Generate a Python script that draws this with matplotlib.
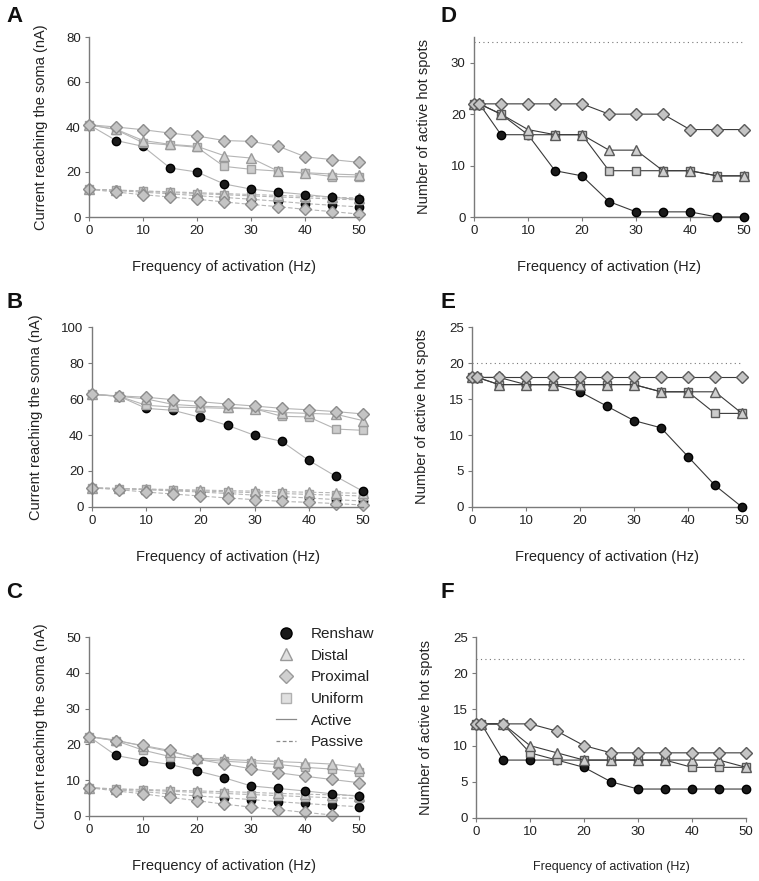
import numpy as np
import matplotlib
matplotlib.use("Agg")
import matplotlib.pyplot as plt
from matplotlib.lines import Line2D

plt.rcParams['font.family'] = ['Liberation Sans', 'DejaVu Sans']

# ---- data ----
freq = [0, 5, 10, 15, 20, 25, 30, 35, 40, 45, 50]
freq_hs = [0, 1, 5, 10, 15, 20, 25, 30, 35, 40, 45, 50]

# panel A: current reaching the soma (nA)
a_ren_act = [41, 34, 31.4, 21.8, 20, 14.7, 12.4, 11.1, 10, 8.8, 7.8]
a_dis_act = [41, 39, 34, 32.3, 31.4, 27.3, 26.2, 20.4, 19.7, 19.1, 18.7]
a_pro_act = [41, 40, 38.8, 37.3, 36, 34, 33.6, 31.5, 26.8, 25.5, 24.3]
a_uni_act = [41, 38.8, 33, 32, 31, 22.5, 21.2, 20.4, 19.5, 18, 17.8]
a_ren_pas = [12.3, 11.8, 11.0, 10.3, 9.5, 8.7, 7.9, 7.0, 6.0, 5.2, 4.5]
a_dis_pas = [12.3, 12.0, 11.6, 11.2, 10.8, 10.4, 10.0, 9.6, 9.2, 8.8, 8.4]
a_pro_pas = [12.3, 11.1, 9.9, 8.9, 7.9, 6.7, 5.6, 4.6, 3.4, 2.4, 1.3]
a_uni_pas = [12.3, 11.9, 11.4, 10.9, 10.4, 9.9, 9.4, 8.9, 8.5, 8.0, 7.6]

# panel B
b_ren_act = [62.6, 61.5, 54.8, 53.7, 49.8, 45.4, 39.8, 36.5, 25.9, 17, 8.7]
b_dis_act = [62.6, 61.5, 60, 57, 56, 55.5, 54.5, 52.5, 52, 51.5, 48]
b_pro_act = [62.6, 61.7, 61, 59.6, 58.5, 57.2, 56.1, 54.8, 54, 53, 51.7]
b_uni_act = [62.6, 61.5, 56.5, 55.5, 55.2, 54.8, 54.6, 50.4, 50, 43.3, 42.6]
b_ren_pas = [10.6, 10.2, 9.6, 9.0, 8.3, 7.5, 6.6, 5.8, 5.0, 4.1, 3.3]
b_dis_pas = [10.6, 10.3, 10.0, 9.7, 9.4, 9.1, 8.8, 8.5, 8.2, 7.9, 7.6]
b_pro_pas = [10.6, 9.6, 8.3, 7.2, 6.1, 5.0, 4.1, 3.1, 2.6, 1.9, 1.1]
b_uni_pas = [10.6, 10.2, 9.8, 9.3, 8.9, 8.4, 8.0, 7.5, 7.0, 6.6, 6.1]

# panel C
c_ren_act = [22.2, 16.9, 15.5, 14.4, 12.6, 10.7, 8.4, 7.7, 7.0, 6.2, 5.5]
c_dis_act = [22.2, 21.2, 19.5, 18, 16.2, 15.8, 15.5, 15.2, 14.9, 14.5, 13.5]
c_pro_act = [22.2, 21, 19.7, 18.3, 15.9, 14.5, 13.2, 12.1, 11.1, 10.2, 9.3]
c_uni_act = [22.2, 21, 18.4, 16.6, 15.8, 15.3, 14.9, 14.4, 13.6, 13.1, 12.4]
c_ren_pas = [7.9, 7.3, 6.8, 6.2, 5.6, 5.1, 4.6, 4.0, 3.5, 3.0, 2.6]
c_dis_pas = [7.9, 7.6, 7.4, 7.2, 7.0, 6.8, 6.6, 6.3, 6.1, 5.9, 5.7]
c_pro_pas = [7.9, 7.0, 6.2, 5.2, 4.3, 3.3, 2.5, 1.8, 1.0, 0.3, np.nan]
c_uni_pas = [7.9, 7.5, 7.2, 6.9, 6.6, 6.3, 6.0, 5.7, 5.4, 5.1, 4.9]

# panels D-F: number of active hot spots
d_ren = [22, 22, 16, 16, 9, 8, 3, 1, 1, 1, 0, 0]
d_dis = [22, 22, 20, 17, 16, 16, 13, 13, 9, 9, 8, 8]
d_pro = [22, 22, 22, 22, 22, 22, 20, 20, 20, 17, 17, 17]
d_uni = [22, 22, 20, 16, 16, 16, 9, 9, 9, 9, 8, 8]
d_total = 34

e_ren = [18, 18, 18, 17, 17, 16, 14, 12, 11, 7, 3, 0]
e_dis = [18, 18, 17, 17, 17, 17, 17, 17, 16, 16, 16, 13]
e_pro = [18, 18, 18, 18, 18, 18, 18, 18, 18, 18, 18, 18]
e_uni = [18, 18, 17, 17, 17, 17, 17, 17, 16, 16, 13, 13]
e_total = 20

f_ren = [13, 13, 8, 8, 8, 7, 5, 4, 4, 4, 4, 4]
f_dis = [13, 13, 13, 10, 9, 8, 8, 8, 8, 8, 8, 7]
f_pro = [13, 13, 13, 13, 12, 10, 9, 9, 9, 9, 9, 9]
f_uni = [13, 13, 13, 9, 8, 8, 8, 8, 8, 7, 7, 7]
f_total = 22

# marker styles
styles = {
    'Renshaw': dict(marker='o', ms=6.0, mfc='#1a1a1a', mec='#000000'),
    'Distal': dict(marker='^', ms=6.5, mfc='#cfcfcf', mec='#9a9a9a'),
    'Proximal': dict(marker='D', ms=6.3, mfc='#c4c4c4', mec='#8c8c8c'),
    'Uniform': dict(marker='s', ms=6.0, mfc='#cccccc', mec='#a0a0a0'),
}
order = ['Renshaw', 'Uniform', 'Distal', 'Proximal']

W, H = 759, 881
fig = plt.figure(figsize=(W / 100, H / 100), dpi=100)


def add_ax(l, r, t, b):
    return fig.add_axes([l / W, 1 - b / H, (r - l) / W, (b - t) / H])


def style_ax(ax, ylim, yticks, xlabel_size=10.5):
    ax.set_xlim(0, 50)
    ax.set_ylim(*ylim)
    ax.set_xticks([0, 10, 20, 30, 40, 50])
    ax.set_yticks(yticks)
    for s in ('top', 'right'):
        ax.spines[s].set_visible(False)
    for s in ('left', 'bottom'):
        ax.spines[s].set_color('#7a7a7a')
        ax.spines[s].set_linewidth(1.0)
    ax.tick_params(colors='#7a7a7a', labelcolor='#222222', length=3,
                   width=0.8, labelsize=9.5, pad=3)
    ax.set_xlabel('Frequency of activation (Hz)', fontsize=xlabel_size,
                  color='#222222', labelpad=16)


def current_panel(ax, act, pas, ylim, yticks):
    for name in order:
        ax.plot(freq, pas[name], ls=(0, (4, 2)), lw=0.8, color='#b5b5b5',
                clip_on=False, zorder=2, **styles[name])
    for name in order:
        ax.plot(freq, act[name], ls='-', lw=0.8, color='#b5b5b5',
                clip_on=False, zorder=3, **styles[name])
    style_ax(ax, ylim, yticks)
    ax.set_ylabel('Current reaching the soma (nA)', fontsize=10.5,
                  color='#222222', labelpad=13)


def hotspot_panel(ax, series, total, ylim, yticks, xlabel_size=10.5):
    ax.plot([0, 50], [total, total], ls=(0, (1, 3)), lw=0.8, color='#777777')
    for name in order:
        st = dict(styles[name])
        if name != 'Renshaw':
            st['mec'] = '#5a5a5a'
        ax.plot(freq_hs, series[name], ls='-', lw=0.8, color='#3a3a3a',
                clip_on=False, zorder=3, **st)
    style_ax(ax, ylim, yticks, xlabel_size)
    ax.set_ylabel('Number of active hot spots', fontsize=10.5,
                  color='#222222', labelpad=14)


axA = add_ax(89, 359, 37, 217)
current_panel(axA,
              dict(Renshaw=a_ren_act, Distal=a_dis_act, Proximal=a_pro_act, Uniform=a_uni_act),
              dict(Renshaw=a_ren_pas, Distal=a_dis_pas, Proximal=a_pro_pas, Uniform=a_uni_pas),
              (0, 80), [0, 20, 40, 60, 80])

axB = add_ax(92, 363, 327, 507)
current_panel(axB,
              dict(Renshaw=b_ren_act, Distal=b_dis_act, Proximal=b_pro_act, Uniform=b_uni_act),
              dict(Renshaw=b_ren_pas, Distal=b_dis_pas, Proximal=b_pro_pas, Uniform=b_uni_pas),
              (0, 100), [0, 20, 40, 60, 80, 100])

axC = add_ax(89, 359, 637, 816)
current_panel(axC,
              dict(Renshaw=c_ren_act, Distal=c_dis_act, Proximal=c_pro_act, Uniform=c_uni_act),
              dict(Renshaw=c_ren_pas, Distal=c_dis_pas, Proximal=c_pro_pas, Uniform=c_uni_pas),
              (0, 50), [0, 10, 20, 30, 40, 50])

axD = add_ax(474, 744, 37, 217)
hotspot_panel(axD, dict(Renshaw=d_ren, Distal=d_dis, Proximal=d_pro, Uniform=d_uni),
              d_total, (0, 35), [0, 10, 20, 30])

axE = add_ax(472, 742, 327, 507)
hotspot_panel(axE, dict(Renshaw=e_ren, Distal=e_dis, Proximal=e_pro, Uniform=e_uni),
              e_total, (0, 25), [0, 5, 10, 15, 20, 25])

axF = add_ax(476, 746, 637, 818)
hotspot_panel(axF, dict(Renshaw=f_ren, Distal=f_dis, Proximal=f_pro, Uniform=f_uni),
              f_total, (0, 25), [0, 5, 10, 15, 20, 25], xlabel_size=9)

# legend in panel C
handles = [Line2D([], [], ls='none', marker='o', ms=8, mfc='#1a1a1a', mec='#000000'),
           Line2D([], [], ls='none', marker='^', ms=8, mfc='#e0e0e0', mec='#9a9a9a'),
           Line2D([], [], ls='none', marker='D', ms=7, mfc='#d0d0d0', mec='#9a9a9a'),
           Line2D([], [], ls='none', marker='s', ms=7.5, mfc='#e0e0e0', mec='#b0b0b0'),
           Line2D([], [], ls='-', lw=0.9, color='#8a8a8a'),
           Line2D([], [], ls=(0, (3, 2)), lw=0.9, color='#8a8a8a')]
labels = ['Renshaw', 'Distal', 'Proximal', 'Uniform', 'Active', 'Passive']
fig.legend(handles, labels, loc='upper left', bbox_to_anchor=(276 / W, 1 - 627 / H),
           frameon=False, fontsize=11, handlelength=1.3, handletextpad=1.0,
           labelspacing=0.5, borderpad=0, borderaxespad=0, labelcolor='#222222')

# panel letters
for letter, x, y in [('A', 6, 6), ('B', 6, 292), ('C', 6, 582),
                     ('D', 440, 6), ('E', 440, 292), ('F', 440, 582)]:
    fig.text(x / W, 1 - y / H, letter, fontsize=16, fontweight='bold',
             va='top', ha='left', color='#111111')

fig.savefig('out.png', dpi=100)
